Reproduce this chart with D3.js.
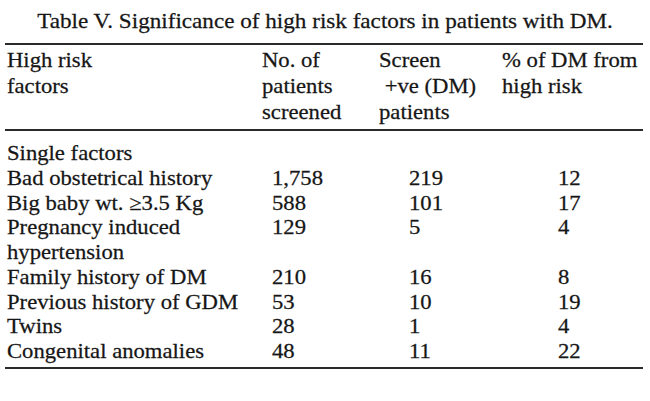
<!DOCTYPE html>
<html>
<head>
<meta charset="utf-8">
<script src="https://cdn.jsdelivr.net/npm/d3@7"></script>
<style>
  html, body { margin: 0; padding: 0; background: #fff; }
  svg text { font-family: "Liberation Serif", "Times New Roman", serif; fill: #161616; stroke: #161616; stroke-width: 0.25px; }
</style>
</head>
<body>
<svg id="chart" width="650" height="401"></svg>
<script>
// table content
var title = "Table V. Significance of high risk factors in patients with DM.";
var headers = [
    ["High risk", "factors"],
    ["No. of", "patients", "screened"],
    ["Screen", " +ve (DM)", "patients"],
    ["% of DM from", "high risk"]
];
var groupLabel = "Single factors";
var factors = [
    ["Bad obstetrical history"],
    ["Big baby wt. \u22653.5 Kg"],
    ["Pregnancy induced", "hypertension"],
    ["Family history of DM"],
    ["Previous history of GDM"],
    ["Twins"],
    ["Congenital anomalies"]
];
var screened = [1758, 588, 129, 210, 53, 28, 48];
var positive = [219, 101, 5, 16, 10, 1, 11];
var percent = [12, 17, 4, 8, 19, 4, 22];

var svg = d3.select("#chart"),
    width = 650,
    fontSize = 21,
    stretch = 1.08,
    fmt = d3.format(",");

// column left edges (header / body)
var colX = [7, 262, 379, 502],
    numX = [7, 272, 409, 558];

function addText(sel, str, x, y, size, sx) {
    return sel.append("text")
        .attr("transform", "translate(" + x + "," + y + ") scale(" + (sx || stretch) + ",1)")
        .style("font-size", (size || fontSize) + "px")
        .attr("xml:space", "preserve")
        .text(str);
}

// title
addText(svg, title, width / 2, 28, 22, 1.052)
    .attr("text-anchor", "middle");

// rules
var rules = [44, 130, 368];
svg.selectAll("line.rule").data(rules).enter().append("line")
    .attr("class", "rule")
    .attr("x1", 5).attr("x2", 643)
    .attr("y1", function (d) { return d; })
    .attr("y2", function (d) { return d; })
    .attr("stroke", "#2a2a2a")
    .attr("stroke-width", 2);

// header
var headY = d3.scaleLinear().domain([0, 2]).range([67, 119]);
headers.forEach(function (lines, c) {
    lines.forEach(function (line, i) {
        addText(svg, line, colX[c], headY(i));
    });
});

// body lines: group label first, then each factor (two-line ones take two rows)
var bodyLines = [{label: groupLabel}];
factors.forEach(function (lines, r) {
    lines.forEach(function (line, i) {
        var row = {label: line};
        if (i === 0) {
            row.values = [fmt(screened[r]), String(positive[r]), String(percent[r])];
        }
        bodyLines.push(row);
    });
});

var rowY = d3.scaleLinear().domain([0, bodyLines.length - 1]).range([160, 358]);

bodyLines.forEach(function (row, i) {
    addText(svg, row.label, numX[0], rowY(i));
    if (row.values) {
        row.values.forEach(function (v, c) {
            addText(svg, v, numX[c + 1], rowY(i));
        });
    }
});
</script>
</body>
</html>
